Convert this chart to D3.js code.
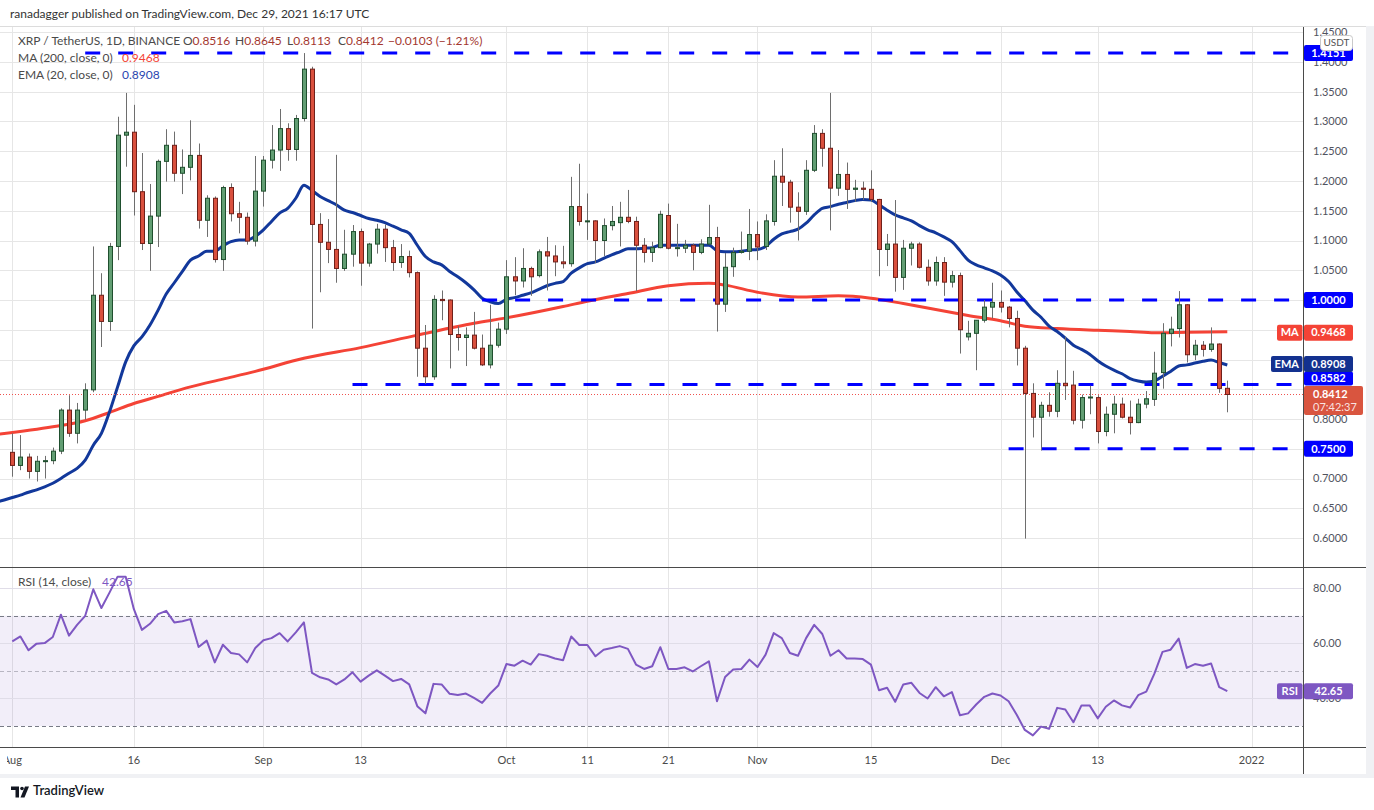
<!DOCTYPE html>
<html>
<head>
<meta charset="utf-8">
<script src="https://cdn.jsdelivr.net/npm/d3@7"></script>
<style>
  body { margin: 0; background: #fff; }
  svg { display: block; font-family: Lato, "Open Sans", sans-serif; }
</style>
</head>
<body>
<svg id="chart"></svg>
<script>
// ---- data (XRP/USDT daily, Aug 1 - Dec 29 2021) ----
const firstCandle = "2021-08-01";

const opens = [
  0.744,0.722,0.736,0.712,0.729,0.730,0.746,0.815,0.776,0.815,0.849,1.008,0.964,1.090,1.277,1.282,1.182,1.095,1.141,1.233,1.260,1.213,1.223,1.243,1.134,1.171,1.068,1.189,1.145,1.139,1.099,
  1.183,1.235,1.252,1.288,1.253,1.305,1.388,1.127,1.097,1.085,1.053,1.077,1.115,1.062,1.094,1.119,1.088,1.063,1.073,1.046,0.919,0.871,1.001,1.000,0.942,0.937,0.941,0.919,0.891,0.924,
  0.951,1.039,1.032,1.053,1.041,1.081,1.074,1.064,1.061,1.157,1.132,1.133,1.100,1.125,1.130,1.139,1.132,1.092,1.080,1.088,1.142,1.087,1.087,1.092,1.080,1.094,1.105,0.993,1.056,1.080,1.082,
  1.110,1.090,1.132,1.208,1.198,1.156,1.149,1.218,1.280,1.255,1.188,1.211,1.186,1.188,1.186,1.169,1.085,1.094,1.038,1.087,1.094,1.055,1.032,1.063,1.030,1.041,0.938,0.944,0.966,0.988,
  0.996,0.988,0.969,0.919,0.843,0.803,0.823,0.813,0.860,0.857,0.798,0.836,0.836,0.779,0.808,0.825,0.803,0.794,0.825,0.833,0.878,0.944,0.952,0.992,0.908,0.924,0.917,0.926,0.8516
];
const highs = [
  0.776,0.773,0.742,0.738,0.738,0.752,0.818,0.840,0.827,0.860,1.090,1.045,1.096,1.308,1.348,1.328,1.247,1.195,1.236,1.287,1.283,1.253,1.302,1.263,1.176,1.174,1.192,1.196,1.165,1.147,1.242,
  1.242,1.294,1.321,1.297,1.311,1.415,1.392,1.146,1.136,1.244,1.118,1.126,1.120,1.096,1.128,1.127,1.101,1.094,1.083,1.048,0.958,1.008,1.016,1.001,0.956,0.954,0.980,0.942,0.992,0.962,
  1.067,1.072,1.087,1.056,1.085,1.106,1.092,1.091,1.207,1.229,1.179,1.134,1.137,1.158,1.165,1.185,1.140,1.104,1.098,1.150,1.162,1.128,1.101,1.095,1.102,1.160,1.123,1.079,1.088,1.115,1.153,
  1.132,1.144,1.235,1.255,1.202,1.181,1.235,1.294,1.287,1.348,1.252,1.231,1.202,1.199,1.218,1.170,1.111,1.168,1.101,1.098,1.097,1.068,1.073,1.072,1.049,1.046,0.965,0.966,1.000,1.029,
  1.016,0.990,0.982,0.923,0.860,0.829,0.845,0.882,0.938,0.881,0.841,0.856,0.840,0.821,0.839,0.836,0.831,0.834,0.847,0.913,0.961,0.972,1.015,0.993,0.933,0.931,0.954,0.927,0.8645
];
const lows = [
  0.703,0.714,0.700,0.695,0.700,0.724,0.741,0.770,0.759,0.799,0.845,0.921,0.948,1.067,1.224,1.142,1.084,1.049,1.089,1.199,1.199,1.178,1.201,1.120,1.106,1.063,1.049,1.132,1.112,1.093,1.090,
  1.157,1.221,1.217,1.234,1.234,1.300,0.952,1.013,1.062,1.029,1.049,1.056,1.024,1.056,1.078,1.064,1.049,1.054,1.038,0.871,0.859,0.866,0.966,0.885,0.915,0.889,0.917,0.889,0.885,0.920,
  0.943,1.008,1.021,1.007,1.038,1.016,1.040,1.053,1.056,1.125,1.101,1.062,1.074,1.117,1.090,1.129,1.015,1.063,1.064,1.087,1.085,1.073,1.079,1.050,1.077,1.093,0.947,0.980,1.039,1.078,1.067,
  1.067,1.084,1.125,1.158,1.130,1.100,1.143,1.215,1.224,1.117,1.175,1.153,1.165,1.168,1.165,1.040,1.057,1.014,1.017,1.058,1.053,1.024,1.024,1.007,1.021,0.910,0.932,0.882,0.962,0.969,
  0.979,0.954,0.890,0.599,0.769,0.747,0.804,0.803,0.832,0.791,0.784,0.808,0.759,0.771,0.776,0.801,0.774,0.793,0.818,0.822,0.851,0.922,0.937,0.895,0.899,0.905,0.913,0.844,0.8113
];
const closes = [
  0.722,0.736,0.712,0.729,0.730,0.746,0.815,0.776,0.815,0.849,1.008,0.964,1.090,1.277,1.282,1.182,1.095,1.141,1.233,1.260,1.213,1.223,1.243,1.134,1.171,1.068,1.189,1.145,1.139,1.099,1.183,
  1.235,1.252,1.288,1.253,1.305,1.388,1.127,1.097,1.085,1.053,1.077,1.115,1.062,1.094,1.119,1.088,1.063,1.073,1.046,0.919,0.871,1.001,0.999,0.942,0.937,0.941,0.919,0.891,0.924,0.951,
  1.039,1.032,1.053,1.039,1.081,1.074,1.064,1.061,1.157,1.132,1.133,1.100,1.125,1.132,1.139,1.132,1.092,1.080,1.088,1.144,1.087,1.088,1.092,1.080,1.094,1.105,0.993,1.055,1.080,1.082,1.110,
  1.089,1.133,1.208,1.198,1.156,1.149,1.218,1.280,1.255,1.188,1.211,1.186,1.188,1.186,1.169,1.085,1.094,1.038,1.087,1.094,1.055,1.032,1.063,1.030,1.041,0.950,0.944,0.966,0.988,0.996,
  0.988,0.969,0.919,0.843,0.803,0.823,0.813,0.860,0.856,0.798,0.836,0.837,0.779,0.808,0.825,0.803,0.794,0.825,0.834,0.877,0.944,0.951,0.992,0.908,0.924,0.917,0.926,0.8515,0.8412
];

// EMA(20), daily from Jul 30
const emaStart = "2021-07-30";
const ema20 = [
  0.660,0.664,
  0.668,0.672,0.677,0.681,0.686,0.692,0.700,0.709,0.717,0.731,0.756,0.776,0.812,0.854,0.896,0.923,0.938,0.958,0.983,1.010,1.029,1.048,1.067,1.074,1.082,1.082,1.091,1.098,1.101,1.101,1.107,
  1.118,1.132,1.146,1.154,1.171,1.193,1.184,1.174,1.167,1.160,1.151,1.147,1.142,1.137,1.134,1.130,1.124,1.118,1.112,1.092,1.073,1.064,1.059,1.048,1.039,1.029,1.017,1.003,0.997,0.994,
  1.001,1.004,1.008,1.012,1.018,1.024,1.028,1.031,1.045,1.054,1.061,1.064,1.070,1.076,1.081,1.086,1.086,1.087,1.088,1.092,1.092,1.092,1.092,1.092,1.092,1.092,1.083,1.081,1.081,1.082,1.084,
  1.085,1.090,1.102,1.111,1.115,1.119,1.129,1.143,1.154,1.157,1.161,1.164,1.167,1.169,1.168,1.160,1.151,1.143,1.138,1.133,1.125,1.118,1.113,1.106,1.098,1.083,1.067,1.059,1.054,1.049,
  1.042,1.031,1.014,0.999,0.983,0.971,0.956,0.947,0.936,0.924,0.917,0.909,0.898,0.889,0.882,0.876,0.868,0.864,0.862,0.864,0.872,0.880,0.889,0.891,0.894,0.897,0.899,0.895,0.8908
];

// MA(200) read at a few dates
const maDates = ["2021-07-30","2021-08-06","2021-08-10","2021-08-13","2021-08-16","2021-08-19","2021-08-23","2021-08-27","2021-08-31",
  "2021-09-06","2021-09-13","2021-09-20","2021-09-27","2021-10-01","2021-10-08","2021-10-11","2021-10-16","2021-10-21","2021-10-26",
  "2021-10-28","2021-11-01","2021-11-06","2021-11-11","2021-11-15","2021-11-19","2021-11-23","2021-11-27","2021-12-01","2021-12-04",
  "2021-12-08","2021-12-13","2021-12-17","2021-12-20","2021-12-24","2021-12-29"];
const ma200 = [0.774,0.787,0.797,0.811,0.826,0.838,0.854,0.867,0.880,
  0.902,0.920,0.941,0.961,0.970,0.989,0.998,1.011,1.024,1.028,
  1.025,1.013,1.005,1.007,1.003,0.994,0.984,0.974,0.965,0.956,
  0.952,0.949,0.947,0.945,0.946,0.9468];

// RSI(14), daily from Aug 1
const rsi14 = [
  60.7,62.5,57.5,59.9,60.1,62.3,70.4,62.8,66.7,70.0,79.6,72.8,78.4,84.2,84.2,72.5,64.9,67.1,70.6,71.8,67.6,68.0,68.8,58.7,61.0,53.1,59.5,56.5,56.0,53.1,58.3,
  61.1,61.9,63.7,60.7,64.0,67.6,49.3,47.7,46.9,45.1,46.9,49.5,46.1,48.3,50.2,48.3,46.3,47.1,45.1,37.2,34.6,45.3,45.1,41.7,41.3,41.8,40.2,38.4,41.8,44.7,
  52.5,51.9,53.7,52.3,56.1,55.5,54.5,53.9,62.5,59.4,59.4,55.3,57.7,58.3,59.0,58.0,52.3,50.7,51.7,58.6,50.7,50.7,51.3,49.8,51.7,53.5,39.0,47.8,50.5,50.7,54.1,
  51.4,55.9,63.7,61.9,56.5,55.5,61.9,66.7,63.4,55.5,57.5,54.5,54.5,54.3,52.3,43.0,43.9,38.8,45.1,45.7,42.0,40.0,44.1,40.8,42.3,33.9,34.6,37.8,40.6,41.8,
  41.1,39.0,34.1,28.6,26.6,29.8,29.0,36.6,36.0,31.4,37.5,37.5,32.8,37.0,39.3,37.5,36.7,41.2,42.5,49.0,56.9,57.7,61.7,51.1,52.5,51.9,52.7,44.1,42.65
];

// horizontal levels drawn by the author
const levelPrices = [1.4151, 1.0, 0.8582, 0.75];
const levelStarts = ["2021-08-10", "2021-09-28", "2021-09-12", "2021-12-02"];

const priceTicks = [0.60,0.65,0.70,0.75,0.80,0.85,0.90,0.95,1.00,1.05,1.10,1.15,1.20,1.25,1.30,1.35,1.40,1.45];
// labels hidden behind the MA / EMA / last price tags
const hiddenTicks = [0.85, 0.90, 0.95];
const rsiTicks = [80, 60, 40];
const timeTicks = ["2021-08-01","2021-08-16","2021-09-01","2021-09-13","2021-10-01","2021-10-11","2021-10-21","2021-11-01","2021-11-15","2021-12-01","2021-12-13","2022-01-01"];
const timeLabels = ["Aug","16","Sep","13","Oct","11","21","Nov","15","Dec","13","2022"];

// ---- layout ----
const W = 1374, H = 810;
const plotR = 1303;
const mainTop = 27, mainBot = 567, rsiBot = 747, axisBot = 774;

const parse = d3.utcParse("%Y-%m-%d");
const day0 = parse(firstCandle);
const candles = opens.map((o, i) => ({
  date: d3.utcDay.offset(day0, i), o: o, h: highs[i], l: lows[i], c: closes[i]
}));
const emaPts = ema20.map((v, i) => ({ date: d3.utcDay.offset(parse(emaStart), i), v: v }));
const maPts = ma200.map((v, i) => ({ date: parse(maDates[i]), v: v }));
const rsiPts = rsi14.map((v, i) => ({ date: d3.utcDay.offset(day0, i), v: v }));

const x = d3.scaleUtc()
  .domain([parse("2021-08-01"), parse("2022-01-01")])
  .range([12.3, 1251.6]);
const y = d3.scaleLinear().domain([0.5513, 1.4588]).range([mainBot, mainTop]);
const yr = d3.scaleLinear().domain([22.4, 87.7]).range([rsiBot, mainBot]);

const svg = d3.select("#chart").attr("width", W).attr("height", H);
svg.append("rect").attr("width", W).attr("height", H).attr("fill", "#fff");

const defs = svg.append("defs");
defs.append("clipPath").attr("id", "clipMain")
  .append("rect").attr("x", 0).attr("y", mainTop).attr("width", plotR).attr("height", mainBot - mainTop);
defs.append("clipPath").attr("id", "clipRsi")
  .append("rect").attr("x", 0).attr("y", mainBot).attr("width", plotR).attr("height", rsiBot - mainBot);
defs.append("clipPath").attr("id", "clipTime")
  .append("rect").attr("x", 7).attr("y", rsiBot).attr("width", plotR - 7).attr("height", axisBot - rsiBot);

// publication line
svg.append("text")
  .attr("x", 10).attr("y", 15)
  .attr("dominant-baseline", "middle")
  .attr("font-size", 12).attr("fill", "#333")
  .text("ranadagger published on TradingView.com, Dec 29, 2021 16:17 UTC");

// outer frame bits
svg.append("rect").attr("x", 1366).attr("y", 26).attr("width", 8).attr("height", 752).attr("fill", "#f0f1f4");
svg.append("rect").attr("x", 0).attr("y", axisBot).attr("width", W).attr("height", 4).attr("fill", "#f0f1f4");
svg.append("line").attr("x1", 0).attr("x2", 1366).attr("y1", 26.5).attr("y2", 26.5).attr("stroke", "#dcdcdc");

// grid
const grid = svg.append("g");
grid.selectAll(".vg")
  .data(timeTicks)
  .enter()
  .append("line")
  .attr("x1", (d) => Math.round(x(parse(d))) + 0.5)
  .attr("x2", (d) => Math.round(x(parse(d))) + 0.5)
  .attr("y1", mainTop).attr("y2", rsiBot)
  .attr("stroke", "#e6e6e6");
grid.selectAll(".hg")
  .data(priceTicks)
  .enter()
  .append("line")
  .attr("x1", 0).attr("x2", plotR)
  .attr("y1", (d) => Math.round(y(d)) + 0.5)
  .attr("y2", (d) => Math.round(y(d)) + 0.5)
  .attr("stroke", "#e6e6e6");

// RSI background band and guides
const rsiG = svg.append("g");
rsiG.append("rect")
  .attr("x", 0).attr("width", plotR)
  .attr("y", yr(70)).attr("height", yr(30) - yr(70))
  .attr("fill", "rgba(126,87,194,0.1)");
rsiG.selectAll(".rg")
  .data(rsiTicks)
  .enter()
  .append("line")
  .attr("x1", 0).attr("x2", plotR)
  .attr("y1", (d) => Math.round(yr(d)) + 0.5)
  .attr("y2", (d) => Math.round(yr(d)) + 0.5)
  .attr("stroke", "#e0dde8");
rsiG.selectAll(".rd")
  .data([70, 50, 30])
  .enter()
  .append("line")
  .attr("x1", 0).attr("x2", plotR)
  .attr("y1", (d) => Math.round(yr(d)) + 0.5)
  .attr("y2", (d) => Math.round(yr(d)) + 0.5)
  .attr("stroke", (d) => (d === 50 ? "#b8b6c2" : "#787b86"))
  .attr("stroke-dasharray", "4,3");

// moving averages
const main = svg.append("g").attr("clip-path", "url(#clipMain)");
main.append("path")
  .datum(maPts)
  .attr("fill", "none")
  .attr("stroke", "#f44336")
  .attr("stroke-width", 3)
  .attr("d", d3.line().x((d) => x(d.date)).y((d) => y(d.v)).curve(d3.curveMonotoneX));
main.append("path")
  .datum(emaPts)
  .attr("fill", "none")
  .attr("stroke", "#12389b")
  .attr("stroke-width", 3)
  .attr("stroke-linejoin", "round")
  .attr("d", d3.line().x((d) => x(d.date)).y((d) => y(d.v)).curve(d3.curveMonotoneX));

// key levels
main.selectAll(".lvl")
  .data(levelPrices)
  .enter()
  .append("line")
  .attr("x1", (d, i) => x(parse(levelStarts[i])))
  .attr("x2", plotR)
  .attr("y1", (d) => y(d))
  .attr("y2", (d) => y(d))
  .attr("stroke", "#0000ff")
  .attr("stroke-width", 3)
  .attr("stroke-dasharray", "15,18");

// last price dotted line
const lastClose = closes[closes.length - 1];
main.append("line")
  .attr("x1", 0).attr("x2", plotR)
  .attr("y1", Math.round(y(lastClose)) + 0.5)
  .attr("y2", Math.round(y(lastClose)) + 0.5)
  .attr("stroke", "#ef5350")
  .attr("stroke-dasharray", "1,2");

// candles
const cg = main.append("g")
  .selectAll("g")
  .data(candles)
  .enter()
  .append("g");
cg.append("line")
  .attr("x1", (d) => Math.round(x(d.date)) + 0.5)
  .attr("x2", (d) => Math.round(x(d.date)) + 0.5)
  .attr("y1", (d) => y(d.h))
  .attr("y2", (d) => y(d.l))
  .attr("stroke", "#6e6e6e");
cg.append("rect")
  .attr("x", (d) => Math.round(x(d.date)) - 1.5)
  .attr("width", 4)
  .attr("y", (d) => y(Math.max(d.o, d.c)))
  .attr("height", (d) => Math.max(1, Math.abs(y(d.o) - y(d.c))))
  .attr("fill", (d) => (d.c >= d.o ? "#629e73" : "#d9503e"))
  .attr("stroke", (d) => (d.c >= d.o ? "#1f4f2e" : "#70201a"))
  .attr("stroke-width", 1);

// RSI line
svg.append("path")
  .datum(rsiPts)
  .attr("clip-path", "url(#clipRsi)")
  .attr("fill", "none")
  .attr("stroke", "#7e57c2")
  .attr("stroke-width", 2)
  .attr("stroke-linejoin", "round")
  .attr("d", d3.line().x((d) => x(d.date)).y((d) => yr(d.v)));

// pane separators and axis line
svg.append("line").attr("x1", 0).attr("x2", 1366).attr("y1", mainBot + 0.5).attr("y2", mainBot + 0.5).attr("stroke", "#4a4a4a");
svg.append("line").attr("x1", 0).attr("x2", 1366).attr("y1", rsiBot + 0.5).attr("y2", rsiBot + 0.5).attr("stroke", "#4a4a4a");
svg.append("line").attr("x1", plotR + 0.5).attr("x2", plotR + 0.5).attr("y1", mainTop).attr("y2", axisBot).attr("stroke", "#4a4a4a");

// time axis
svg.append("g")
  .attr("clip-path", "url(#clipTime)")
  .selectAll("text")
  .data(timeTicks)
  .enter()
  .append("text")
  .attr("x", (d) => x(parse(d)))
  .attr("y", 761)
  .attr("text-anchor", "middle")
  .attr("dominant-baseline", "middle")
  .attr("font-size", 11)
  .attr("fill", "#4a4a4a")
  .text((d, i) => timeLabels[i]);

// price axis labels
svg.append("g")
  .selectAll("text")
  .data(priceTicks.filter((t) => !hiddenTicks.includes(t)))
  .enter()
  .append("text")
  .attr("x", 1313)
  .attr("y", (d) => y(d) + 1)
  .attr("dominant-baseline", "middle")
  .attr("font-size", 11)
  .attr("fill", "#50535e")
  .text((d) => d.toFixed(4));
svg.append("g")
  .selectAll("text")
  .data(rsiTicks)
  .enter()
  .append("text")
  .attr("x", 1313)
  .attr("y", (d) => yr(d) + 1)
  .attr("dominant-baseline", "middle")
  .attr("font-size", 11)
  .attr("fill", "#50535e")
  .text((d) => d.toFixed(2));

// axis tags
function tag(cy, txt, fill, x0, w, h) {
  svg.append("rect")
    .attr("x", x0).attr("y", cy - h / 2)
    .attr("width", w).attr("height", h)
    .attr("rx", 2).attr("fill", fill);
  svg.append("text")
    .attr("x", x0 + w / 2).attr("y", cy + 1)
    .attr("text-anchor", "middle")
    .attr("dominant-baseline", "middle")
    .attr("font-size", 11).attr("font-weight", 700)
    .attr("fill", "#fff")
    .text(txt);
}
const lastEma = ema20[ema20.length - 1];
const lastMa = ma200[ma200.length - 1];
const lastRsi = rsi14[rsi14.length - 1];

tag(y(levelPrices[0]), levelPrices[0].toFixed(4), "#0000ff", 1304, 49, 16);
tag(y(levelPrices[1]), levelPrices[1].toFixed(4), "#0000ff", 1304, 49, 16);
tag(y(levelPrices[3]), levelPrices[3].toFixed(4), "#0000ff", 1304, 49, 16);
tag(y(levelPrices[2]) - 6, levelPrices[2].toFixed(4), "#0000ff", 1304, 49, 14);
tag(y(lastEma) - 1, lastEma.toFixed(4), "#13318f", 1304, 49, 16);
tag(y(lastEma) - 1, "EMA", "#13318f", 1271, 31.5, 16);
tag(y(lastMa) + 1, lastMa.toFixed(4), "#f44336", 1304, 49, 16);
tag(y(lastMa) + 1, "MA", "#f44336", 1277, 25.5, 16);
tag(yr(lastRsi), "RSI", "#7e57c2", 1277, 25.5, 16);
tag(yr(lastRsi), lastRsi.toFixed(2), "#7e57c2", 1304, 49, 16);

// last price tag with countdown
const lp = y(lastClose);
svg.append("rect")
  .attr("x", 1304).attr("y", lp - 8.5)
  .attr("width", 59).attr("height", 29)
  .attr("rx", 2).attr("fill", "#d9553f");
svg.append("text")
  .attr("x", 1313).attr("y", lp + 1)
  .attr("dominant-baseline", "middle")
  .attr("font-size", 11).attr("font-weight", 700)
  .attr("fill", "#fff")
  .text(lastClose.toFixed(4));
svg.append("text")
  .attr("x", 1313).attr("y", lp + 14)
  .attr("dominant-baseline", "middle")
  .attr("font-size", 11)
  .attr("fill", "rgba(255,255,255,0.85)")
  .text("07:42:37");

// USDT badge
svg.append("rect")
  .attr("x", 1320.5).attr("y", 35.5).attr("width", 32).attr("height", 15)
  .attr("rx", 3).attr("fill", "#fff").attr("stroke", "#c9c9c9");
svg.append("text")
  .attr("x", 1336.5).attr("y", 43.5)
  .attr("text-anchor", "middle").attr("dominant-baseline", "middle")
  .attr("font-size", 10).attr("fill", "#555")
  .text("USDT");

// legends
const legend = svg.append("g").attr("font-size", 12);
const title = legend.append("text").attr("y", 42).attr("dominant-baseline", "middle");
title.append("tspan").attr("x", 18).attr("fill", "#4a4a4a").text("XRP / TetherUS, 1D, BINANCE");
const ohlc = [["O", opens], ["H", highs], ["L", lows], ["C", closes]];
const ohlcX = [183, 235, 287, 338];
ohlc.forEach((p, i) => {
  title.append("tspan").attr("x", ohlcX[i]).attr("fill", "#4a4a4a").text(p[0]);
  title.append("tspan").attr("fill", "#a3372f").text(p[1][p[1].length - 1].toFixed(4));
});
const prevClose = closes[closes.length - 2];
const chg = lastClose - prevClose;
title.append("tspan").attr("x", 388).attr("fill", "#a3372f")
  .text("\u2212" + Math.abs(chg).toFixed(4) + " (\u2212" + Math.abs(chg / prevClose * 100).toFixed(2) + "%)");

const maL = legend.append("text").attr("y", 59).attr("dominant-baseline", "middle");
maL.append("tspan").attr("x", 18).attr("fill", "#4a4a4a").text("MA (200, close, 0)");
maL.append("tspan").attr("x", 122).attr("fill", "#f44336").text(lastMa.toFixed(4));
const emaL = legend.append("text").attr("y", 76).attr("dominant-baseline", "middle");
emaL.append("tspan").attr("x", 18).attr("fill", "#4a4a4a").text("EMA (20, close, 0)");
emaL.append("tspan").attr("x", 122).attr("fill", "#2a46b0").text(lastEma.toFixed(4));

const rsiL = svg.append("text").attr("y", 583).attr("dominant-baseline", "middle").attr("font-size", 12);
rsiL.append("tspan").attr("x", 18).attr("fill", "#4a4a4a").text("RSI (14, close)");
rsiL.append("tspan").attr("x", 102).attr("fill", "#7e57c2").text(lastRsi.toFixed(2));

// TradingView mark
const logo = svg.append("g").attr("fill", "#131722");
logo.append("path").attr("d", "M11,786.5 h8 v11 h-3.5 v-7.5 h-4.5 z");
logo.append("circle").attr("cx", 22).attr("cy", 788.5).attr("r", 1.8);
logo.append("path").attr("d", "M25,786.5 h4 l-4.5,11 h-4 z");
svg.append("text")
  .attr("x", 33).attr("y", 792)
  .attr("dominant-baseline", "middle")
  .attr("font-size", 13).attr("font-weight", 600)
  .attr("fill", "#131722")
  .text("TradingView");
</script>
</body>
</html>
